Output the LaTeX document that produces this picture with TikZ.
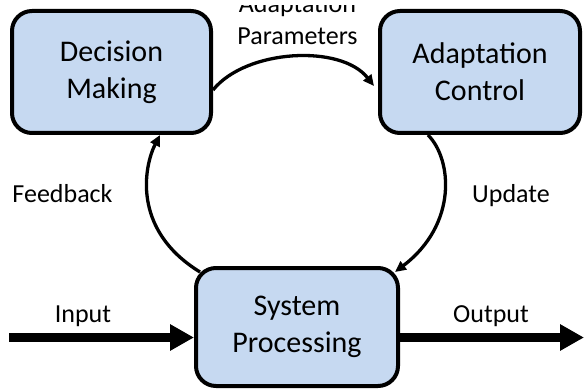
\documentclass[tikz,border=0pt]{standalone}
\usepackage{fontspec}
\setmainfont{Carlito}
\usetikzlibrary{arrows.meta}
\definecolor{boxfill}{RGB}{198,217,241}
\tikzset{
  blockbox/.style={draw=black, line width=4pt, fill=boxfill, rounded corners=20pt,
    align=center, inner sep=0pt, font=\fontsize{30}{37}\selectfont},
  lbl/.style={font=\fontsize{26}{32}\selectfont, inner sep=0pt, anchor=base},
  thinarrow/.style={line width=3.3pt, -{Triangle[length=11pt,width=10pt]}},
  thickarrow/.style={line width=9pt, -{Triangle[length=24pt,width=25pt]}}
}
\begin{document}
\begin{tikzpicture}[x=1pt,y=1pt]
\useasboundingbox (0,0) rectangle (584,389);
\clip (0,0) rectangle (584,383);
\node[blockbox, minimum width=199pt, minimum height=122pt] (dm) at (111.5,317) {Decision\\Making};
\node[blockbox, minimum width=200pt, minimum height=122pt] (ac) at (480,317) {Adaptation\\Control};
\node[blockbox, minimum width=202pt, minimum height=118pt] (sp) at (297,62) {System\\Processing};
\coordinate (in) at (9,51.5);
\coordinate (out) at (584,51.5);
\node[lbl] (lap1) at (297.5,376.5) {Adaptation};
\node[lbl] (lap2) at (297.5,344) {Parameters};
\node[lbl] (lfb) at (62.5,187) {Feedback};
\node[lbl] (lup) at (511,187) {Update};
\node[lbl] (lin) at (83,67) {Input};
\node[lbl] (lout) at (491,67) {Output};
\draw[thinarrow] ([yshift=-18pt]dm.east) .. controls +(33,41) and +(-33,42) .. ([yshift=-14pt,xshift=-4pt]ac.west);
\draw[thinarrow] ([shift={(6pt,-6pt)}]sp.north west) .. controls (130,160) and (145,225) .. ([xshift=48.5pt]dm.south);
\draw[thinarrow] ([xshift=50pt]ac.south west) .. controls (452,230) and (458,165) .. ([shift={(-5pt,-6pt)}]sp.north east);
\draw[thickarrow] (in) -- ([yshift=-10.5pt]sp.west);
\draw[thickarrow] ([yshift=-10.5pt]sp.east) -- (out);
\end{tikzpicture}
\end{document}
